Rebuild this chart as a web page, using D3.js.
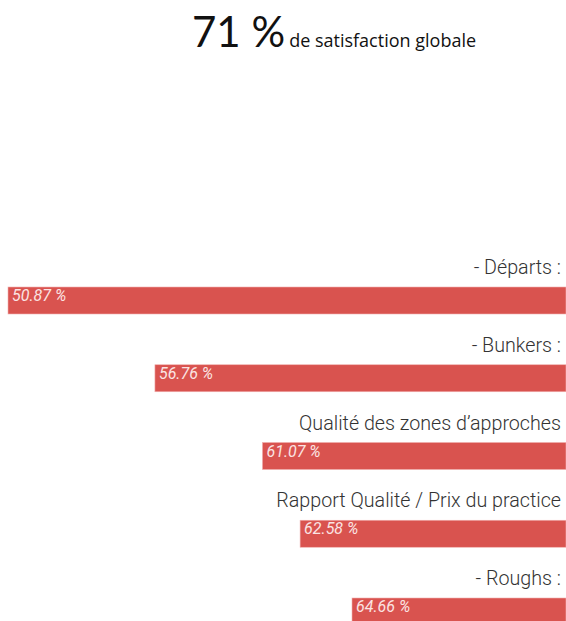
<!DOCTYPE html>
<html><head><meta charset="utf-8">
<script src="https://cdn.jsdelivr.net/npm/d3@7"></script>
<style>html,body{margin:0;padding:0;background:#fff;}</style>
</head><body>
<script>
const categories = ["- Départs :", "- Bunkers :", "Qualité des zones d’approches", "Rapport Qualité / Prix du practice", "- Roughs :"];
const values = [50.87, 56.76, 61.07, 62.58, 64.66];
const globalValue = 71;
const globalLabel = "de satisfaction globale";

const W = 566, H = 621;
const svg = d3.select("body").append("svg").attr("width", W).attr("height", H);

// title
const t = svg.append("text").attr("x", 192).attr("y", 47);
t.append("tspan").attr("font-family", "Lato, 'Open Sans', sans-serif").attr("font-size", 42).attr("fill", "#111").text(globalValue + " %");
t.append("tspan").attr("dx", 4).attr("font-family", "'Open Sans', sans-serif").attr("font-size", 18).attr("fill", "#111").text(globalLabel);

const bh = 27, step = 77.75, top0 = 287;
const p = 1 - bh / step;
const x = d3.scaleLinear().domain(d3.extent(values)).range([8, 352]);
const y = d3.scaleBand().domain(categories)
  .range([top0, top0 + step * (categories.length - p)])
  .paddingInner(p).paddingOuter(0);

const rows = svg.append("g").selectAll("g.row").data(categories).join("g").attr("class", "row");

rows.append("rect")
  .attr("x", (d, i) => x(values[i]))
  .attr("y", d => y(d))
  .attr("width", (d, i) => W - x(values[i]))
  .attr("height", y.bandwidth())
  .attr("fill", "#d9534f")
  .attr("stroke", "#f0b0ae").attr("stroke-width", 0.6);

rows.append("text")
  .attr("x", 561)
  .attr("y", d => y(d) - 13)
  .attr("text-anchor", "end")
  .attr("font-family", "Roboto, sans-serif")
  .attr("font-weight", 300)
  .attr("font-size", 19.7)
  .attr("fill", "#333")
  .text(d => d);

rows.append("text")
  .attr("x", (d, i) => x(values[i]) + 4)
  .attr("y", d => y(d) + 14)
  .attr("font-family", "Roboto, sans-serif")
  .attr("font-style", "italic")
  .attr("font-size", 16)
  .attr("fill", "#fbe4e3")
  .text((d, i) => values[i].toFixed(2) + " %");
</script>
</body></html>
